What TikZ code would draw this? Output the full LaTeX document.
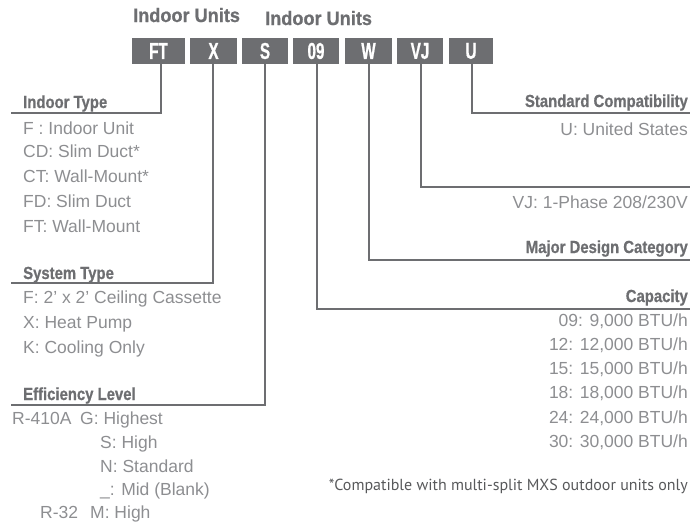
\documentclass[tikz,border=0pt]{standalone}
\usepackage{fontspec}
\setmainfont{Liberation Sans}
\newfontfamily\hfont[FakeStretch=0.85,FakeBold=0.8]{Liberation Sans}
\newfontfamily\bfont[FakeStretch=0.66,FakeBold=0.8]{Liberation Sans}
\newfontfamily\tfont[FakeStretch=0.93,FakeBold=0.8]{Liberation Sans}
\newfontfamily\nfont{PT Sans}
\definecolor{boxgray}{HTML}{6D6E71}
\definecolor{txtgray}{HTML}{8D8E91}
\definecolor{notegray}{HTML}{58595B}
\tikzset{
  codebox/.style={inner sep=0pt, text=white, font=\bfont\bfseries\fontsize{23}{23}\selectfont},
  conn/.style={draw=boxgray, line width=2.2pt},
  head/.style={inner sep=0pt, text=boxgray, font=\hfont\bfseries\fontsize{17.5}{17.5}\selectfont},
  title/.style={inner sep=0pt, text=boxgray, font=\tfont\bfseries\fontsize{19.5}{19.5}\selectfont},
  item/.style={inner sep=0pt, text=txtgray, font=\fontsize{17.5}{17.5}\selectfont},
  note/.style={inner sep=0pt, text=notegray, font=\nfont\fontsize{16}{16}\selectfont},
}
\begin{document}
\begin{tikzpicture}[x=1pt,y=-1pt]
\useasboundingbox (0,0) rectangle (691,525);
% titles
\node[title, anchor=base west] (t1) at (133,22) {Indoor Units};
\node[title, anchor=base west] (t2) at (265,25) {Indoor Units};
% code boxes
\path[fill=boxgray] (132,38) rectangle (185,64);
\path[fill=boxgray] (190,38) rectangle (237,64);
\path[fill=boxgray] (242,38) rectangle (288,64);
\path[fill=boxgray] (293,38) rectangle (339,64);
\path[fill=boxgray] (345,38) rectangle (392,64);
\path[fill=boxgray] (397,38) rectangle (443,64);
\path[fill=boxgray] (449,38) rectangle (493,64);
\node[codebox] (cFT) at (158.5,51) {FT};
\node[codebox] (cX) at (213.5,51) {X};
\node[codebox] (cS) at (265,51) {S};
\node[codebox] (c09) at (316,51) {09};
\node[codebox] (cW) at (368.5,51) {W};
\node[codebox] (cVJ) at (420,51) {VJ};
\node[codebox] (cU) at (471,51) {U};
% corner coordinates
\coordinate (eFT) at (11,113);
\coordinate (eX) at (11,283);
\coordinate (eS) at (11,405);
\coordinate (e09) at (690,309);
\coordinate (eW) at (690,260);
\coordinate (eVJ) at (690,187);
\coordinate (eU) at (690,113);
% connectors
\draw[conn] (161,64) |- (eFT);
\draw[conn] (213,64) |- (eX);
\draw[conn] (265,64) |- (eS);
\draw[conn] (317,64) |- (e09);
\draw[conn] (369,64) |- (eW);
\draw[conn] (421,64) |- (eVJ);
\draw[conn] (472,64) |- (eU);
% left texts
\node[head, anchor=base west] (hIT) at (23,108) {Indoor Type};
\node[item, anchor=base west] (i1) at (23,134) {F : Indoor Unit};
\node[item, anchor=base west] (i2) at (23,157) {CD: Slim Duct*};
\node[item, anchor=base west] (i3) at (23,182) {CT: Wall-Mount*};
\node[item, anchor=base west] (i4) at (23,207) {FD: Slim Duct};
\node[item, anchor=base west] (i5) at (23,232) {FT: Wall-Mount};
\node[head, anchor=base west] (hST) at (23,279) {System Type};
\node[item, anchor=base west] (s1) at (23,303) {F: 2' x 2' Ceiling Cassette};
\node[item, anchor=base west] (s2) at (23,328) {X: Heat Pump};
\node[item, anchor=base west] (s3) at (23,353) {K: Cooling Only};
\node[head, anchor=base west] (hEL) at (23,400) {Efficiency Level};
\node[item, anchor=base west] (r1) at (12,424) {R-410A};
\node[item, anchor=base west] (e1) at (80,424) {G: Highest};
\node[item, anchor=base west] (e2) at (100,448) {S: High};
\node[item, anchor=base west] (e3) at (100,472) {N: Standard};
\node[item, anchor=base west] (e4) at (100,495) {\_: Mid (Blank)};
\node[item, anchor=base west] (r2) at (40,518) {R-32};
\node[item, anchor=base west] (e5) at (90,518) {M: High};
% right texts
\node[head, anchor=base east] (hSC) at (688,107) {Standard Compatibility};
\node[item, anchor=base east] (u1) at (688,135) {U: United States};
\node[item, anchor=base east] (v1) at (688,208) {VJ: 1-Phase 208/230V};
\node[head, anchor=base east] (hMD) at (688,253) {Major Design Category};
\node[head, anchor=base east] (hCA) at (688,302) {Capacity};
\node[item, anchor=base east] (c1) at (688,326) {09: 9,000 BTU/h};
\node[item, anchor=base east] (c2) at (688,350) {12: 12,000 BTU/h};
\node[item, anchor=base east] (c3) at (688,374) {15: 15,000 BTU/h};
\node[item, anchor=base east] (c4) at (688,398) {18: 18,000 BTU/h};
\node[item, anchor=base east] (c5) at (688,423) {24: 24,000 BTU/h};
\node[item, anchor=base east] (c6) at (688,447) {30: 30,000 BTU/h};
% footnote
\node[note, anchor=base east] (fn) at (688,490) {*Compatible with multi-split MXS outdoor units only};
\end{tikzpicture}
\end{document}
